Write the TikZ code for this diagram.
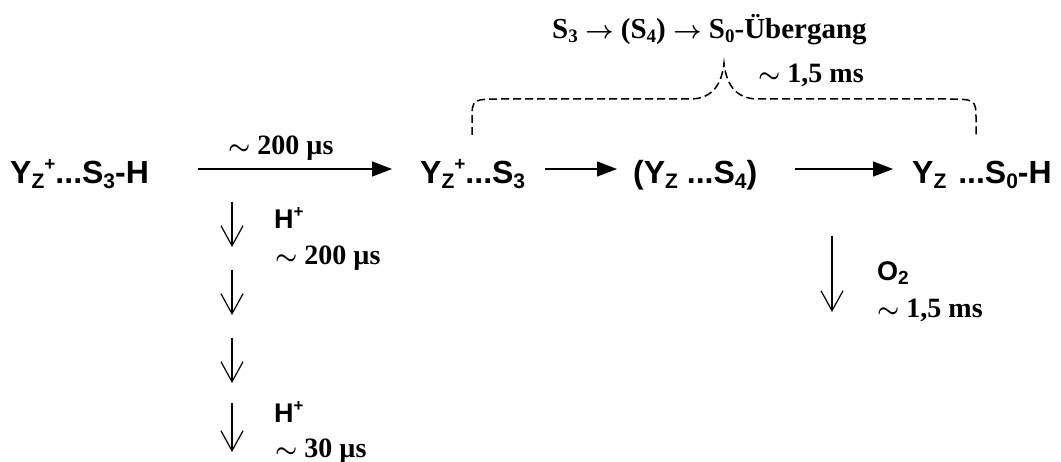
\documentclass[tikz,border=0pt]{standalone}
\usepackage{fontspec}
\usepackage{amsmath}
\setmainfont{Liberation Serif}
\newfontfamily\arialf{Liberation Sans}
\usetikzlibrary{arrows.meta}
\newcommand{\lo}[1]{\raisebox{-5pt}{\fontsize{21}{21}\selectfont #1}}
\newcommand{\hi}[1]{\raisebox{13pt}{\fontsize{19}{19}\selectfont #1}}
\newcommand{\slo}[1]{\raisebox{-4pt}{\fontsize{19}{19}\selectfont #1}}
\newcommand{\shi}[1]{\raisebox{11pt}{\fontsize{17}{17}\selectfont #1}}
\newcommand{\tsim}{$\boldsymbol{\sim}$}
\newcommand{\tto}{$\boldsymbol{\rightarrow}$}
\begin{document}
\begin{tikzpicture}[x=1pt,y=-1pt,
  sans/.style={font=\arialf\bfseries\fontsize{32}{32}\selectfont, inner sep=0pt, anchor=base west},
  small/.style={font=\arialf\bfseries\fontsize{27}{27}\selectfont, inner sep=0pt, anchor=base west},
  serif/.style={font=\bfseries\fontsize{28}{28}\selectfont, inner sep=0pt, anchor=base west},
  fat/.style={line width=1.3pt, -{Triangle[length=20pt,width=15pt]}},
  thin/.style={line width=1.2pt, -{Straight Barb[length=20pt,width=22pt]}},
  bracepath/.style={dash pattern=on 8pt off 4pt, line width=1.5pt}]
\useasboundingbox (0,0) rectangle (1061,462);
% main row
\node[sans] (A) at (10,184) {Y\lo{Z}\hi{+}...S\lo{3}-H};
\node[sans] (B) at (420,184) {Y\lo{Z}\hi{+}...S\lo{3}};
\node[sans] (C) at (633,184) {(Y\lo{Z} ...S\lo{4})};
\node[sans] (D) at (912,184) {Y\lo{Z}\hspace{3pt} ...S\lo{0}-H};
% horizontal arrows
\coordinate (a1s) at (198,169); \coordinate (a1e) at (392,169);
\coordinate (a2s) at (545,169); \coordinate (a2e) at (617,169);
\coordinate (a3s) at (795,169); \coordinate (a3e) at (893,169);
\draw[fat] (a1s) -- (a1e);
\draw[fat] (a2s) -- (a2e);
\draw[fat] (a3s) -- (a3e);
\node[serif] (l1) at (228,155) {\tsim{} 200 µs};
% title
\node[serif, font=\bfseries\fontsize{29}{29}\selectfont] (t) at (552,39) {S\slo{3} \tto{} (S\slo{4}) \tto{} S\slo{0}-Übergang};
\node[serif] (l2) at (758,83) {\tsim{} 1,5 ms};
% brace
\coordinate (bl) at (472,135);
\coordinate (tip) at (724,63);
\coordinate (br) at (976,135);
\draw[bracepath] (bl) -- (472,120) .. controls (472,99) .. (503,99) -- (690,99)
  .. controls (714,99) and (722,82) .. (tip)
  .. controls (726,82) and (734,99) .. (758,99) -- (944,99)
  .. controls (976,99) .. (976,120) -- (br);
% left vertical arrows
\coordinate (v1s) at (232,202); \coordinate (v1e) at (232,247);
\coordinate (v2s) at (232,270); \coordinate (v2e) at (232,315);
\coordinate (v3s) at (232,338); \coordinate (v3e) at (232,383);
\coordinate (v4s) at (232,403); \coordinate (v4e) at (232,452);
\draw[thin] (v1s) -- (v1e);
\draw[thin] (v2s) -- (v2e);
\draw[thin] (v3s) -- (v3e);
\draw[thin] (v4s) -- (v4e);
\node[small] (h1) at (274,229) {H\shi{+}};
\node[serif] (s1) at (275,265) {\tsim{} 200 µs};
\node[small] (h2) at (274,423) {H\shi{+}};
\node[serif] (s2) at (275,457) {\tsim{} 30 µs};
% right vertical arrow
\coordinate (vrs) at (832,236); \coordinate (vre) at (832,312);
\draw[thin] (vrs) -- (vre);
\node[small] (o2) at (877,281) {O\slo{2}};
\node[serif] (s3) at (877,318) {\tsim{} 1,5 ms};
\end{tikzpicture}
\end{document}
